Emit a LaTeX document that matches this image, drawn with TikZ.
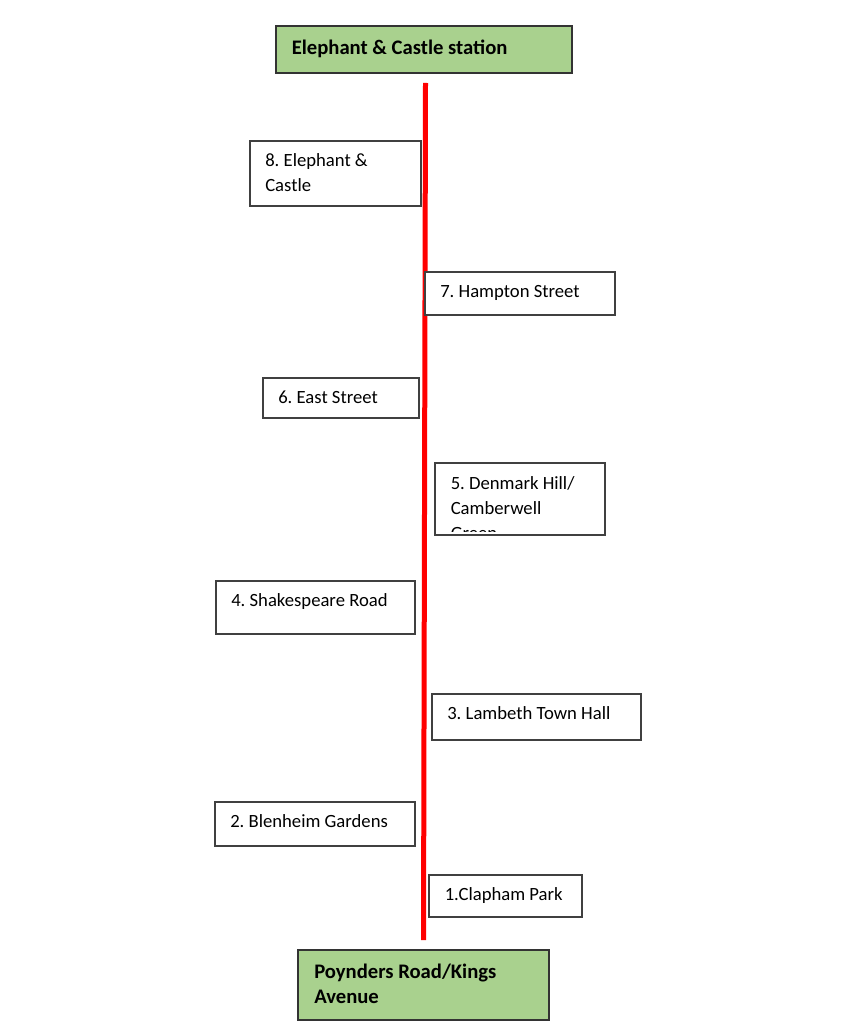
\documentclass[tikz,border=0pt]{standalone}
\usepackage{fontspec}
\setmainfont{Carlito}
\frenchspacing
\definecolor{stopgreen}{HTML}{A9D18E}
\definecolor{routered}{HTML}{FF0000}
\begin{document}
\begin{tikzpicture}[x=0.75pt,y=-0.75pt,
    stopbox/.style={draw=black!75,line width=1.1pt,fill=white},
    endbox/.style={draw=black!80,line width=1.1pt,fill=stopgreen},
    stoplabel/.style={anchor=base west,inner sep=0pt,align=left,font=\fontsize{14}{18.4}\selectfont},
    endlabel/.style={anchor=base west,inner sep=0pt,align=left,font=\bfseries\fontsize{15.5}{18.9}\selectfont}]
    \useasboundingbox (0,0) rectangle (851,1023);
    % route line
    \coordinate (routetop) at (425.5,83);
    \coordinate (routeend) at (423.5,940);
    \draw[routered,line width=3.75pt] (routetop)--(routeend);
    % end stations (multi-line labels sit on their last baseline)
    \draw[endbox] (276,26) rectangle (572,73);
    \node[endlabel] (north) at (291.5,54.3) {Elephant \& Castle station};
    \draw[endbox] (298,950) rectangle (549,1020);
    \node[endlabel] (south) at (314,1003.3) {Poynders Road/Kings\\Avenue};
    % stops
    \draw[stopbox] (250,141) rectangle (421,206);
    \node[stoplabel] (stop8) at (265,191.2) {8. Elephant \&\\Castle};
    \draw[stopbox] (425,272) rectangle (615,315);
    \node[stoplabel] (stop7) at (440,297.5) {7. Hampton Street};
    \draw[stopbox] (263,378) rectangle (419,418);
    \node[stoplabel] (stop6) at (278,403.5) {6. East Street};
    \draw[stopbox] (435,463) rectangle (605,535);
    \begin{scope}
        \clip (436,464) rectangle (604,531.5);
        \node[stoplabel,font=\fontsize{14}{18.75}\selectfont] (stop5) at (450.5,539.5) {5. Denmark Hill/\\Camberwell\\Green};
    \end{scope}
    \draw[stopbox] (216,581) rectangle (415,634);
    \node[stoplabel] (stop4) at (231,606) {4. Shakespeare Road};
    \draw[stopbox] (432,694) rectangle (641,740);
    \node[stoplabel] (stop3) at (447,719.5) {3. Lambeth Town Hall};
    \draw[stopbox] (215,802) rectangle (415,846);
    \node[stoplabel] (stop2) at (230,827.5) {2. Blenheim Gardens};
    \draw[stopbox] (429,875) rectangle (582,917);
    \node[stoplabel] (stop1) at (444.5,900.5) {1.Clapham Park};
\end{tikzpicture}
\end{document}
